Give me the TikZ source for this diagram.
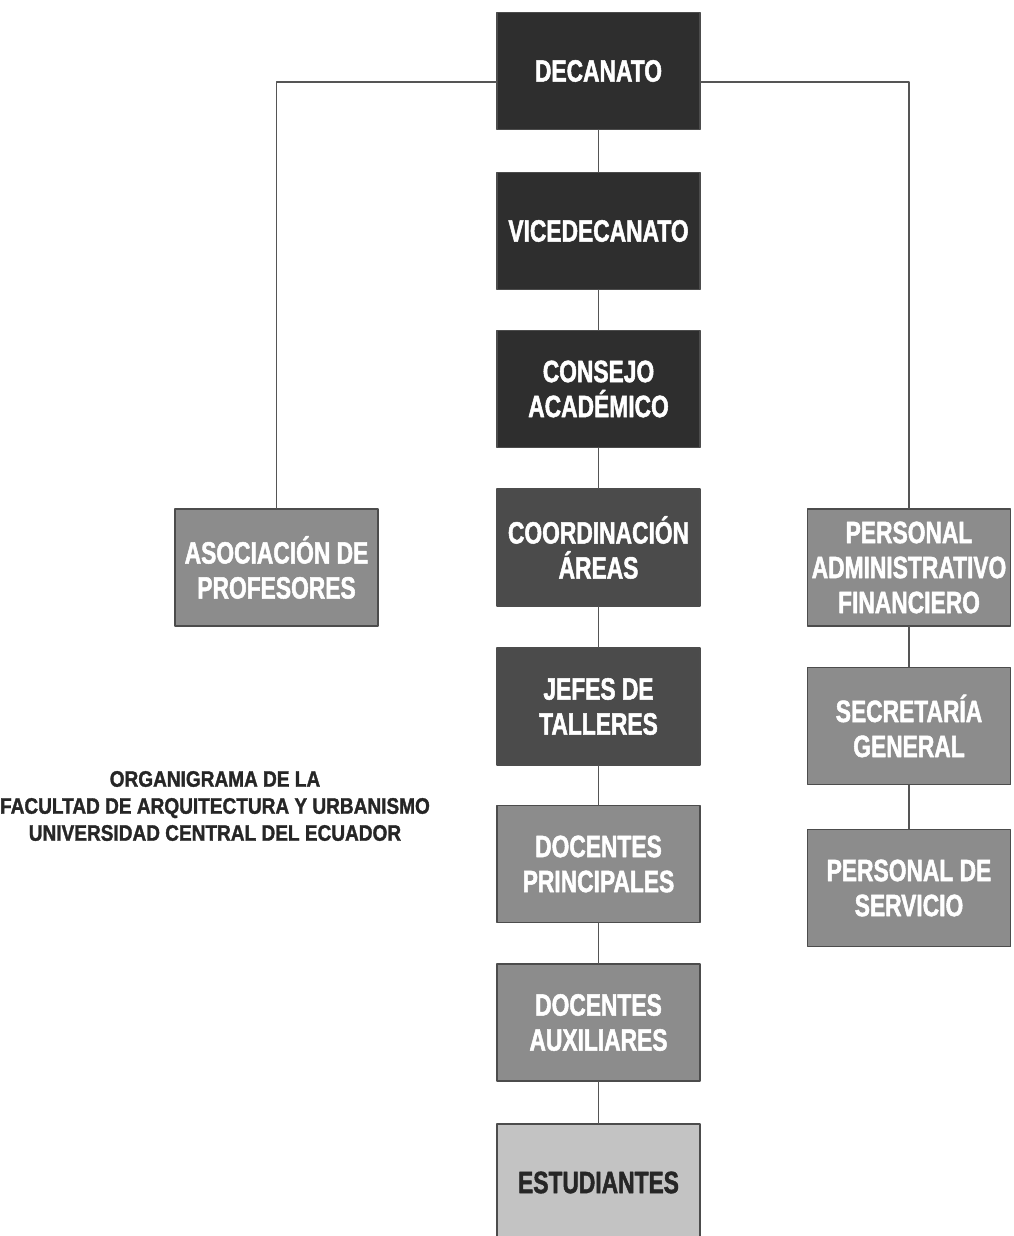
\documentclass[tikz,border=0pt]{standalone}
\usepackage{fontspec}
\setmainfont{Liberation Sans}
\newfontfamily\orgfont{Liberation Sans}[FakeStretch=0.74, BoldFeatures={FakeBold=1.6}]
\newfontfamily\titlefont{Liberation Sans}[FakeStretch=0.85, BoldFeatures={FakeBold=1.4}]
\usepackage{tikz}

\definecolor{boxdark}{HTML}{2E2E2E}
\definecolor{boxmid}{HTML}{4B4B4B}
\definecolor{boxgrey}{HTML}{8C8C8C}
\definecolor{boxlight}{HTML}{C3C3C3}
\definecolor{linegrey}{HTML}{555555}

\tikzset{
  orgbox/.style={draw=black!70, line width=0.6pt, minimum width=101.5pt,
    minimum height=58.5pt, inner sep=0pt, align=center,
    font=\orgfont\bfseries\fontsize{15.4}{17.5}\selectfont},
  darkbox/.style={orgbox, fill=boxdark, text=white},
  midbox/.style={orgbox, fill=boxmid, text=white},
  greybox/.style={orgbox, fill=boxgrey, text=white},
  lightbox/.style={orgbox, fill=boxlight, text=black!85},
  link/.style={draw=linegrey, line width=0.75pt}
}

\begin{document}
\begin{tikzpicture}[line cap=round,line join=round,x=0.5pt,y=-0.5pt]
\useasboundingbox (0,0) rectangle (1013,1236);
\clip (0,0) rectangle (1013,1236);
% central column
\node[darkbox] (dec) at (598.5, 71) {DECANATO};
\node[darkbox] (vice) at (598.5, 231) {VICEDECANATO};
\node[darkbox] (cons) at (598.5, 389) {CONSEJO\\ACADÉMICO};
\node[midbox] (coord) at (598.5, 547.5) {COORDINACIÓN\\ÁREAS};
\node[midbox] (jefes) at (598.5, 706.5) {JEFES DE\\TALLERES};
\node[greybox] (docp) at (598.5, 864) {DOCENTES\\PRINCIPALES};
\node[greybox] (doca) at (598.5, 1022.5) {DOCENTES\\AUXILIARES};
\node[lightbox] (est) at (598.5, 1182.5) {ESTUDIANTES};
% side boxes
\node[greybox] (asoc) at (276.5, 567.5) {ASOCIACIÓN DE\\PROFESORES};
\node[greybox] (pers) at (909, 567.5) {PERSONAL\\ADMINISTRATIVO\\FINANCIERO};
\node[greybox] (sec) at (909, 726) {SECRETARÍA\\GENERAL};
\node[greybox] (serv) at (909, 888) {PERSONAL DE\\SERVICIO};
% connectors
\draw[link] (dec) -- (vice);
\draw[link] (vice) -- (cons);
\draw[link] (cons) -- (coord);
\draw[link] (coord) -- (jefes);
\draw[link] (jefes) -- (docp);
\draw[link] (docp) -- (doca);
\draw[link] (doca) -- (est);
\draw[link] ([yshift=-5.5pt]dec.west) -| (asoc.north);
\draw[link] ([yshift=-5.5pt]dec.east) -| (pers.north);
\draw[link] (pers) -- (sec);
\draw[link] (sec) -- (serv);
% title
\node[align=center, text=black!85, font=\titlefont\bfseries\fontsize{11.2}{13.5}\selectfont] (title) at (215, 806)
  {ORGANIGRAMA DE LA\\FACULTAD DE ARQUITECTURA Y URBANISMO\\UNIVERSIDAD CENTRAL DEL ECUADOR};
\end{tikzpicture}
\end{document}
